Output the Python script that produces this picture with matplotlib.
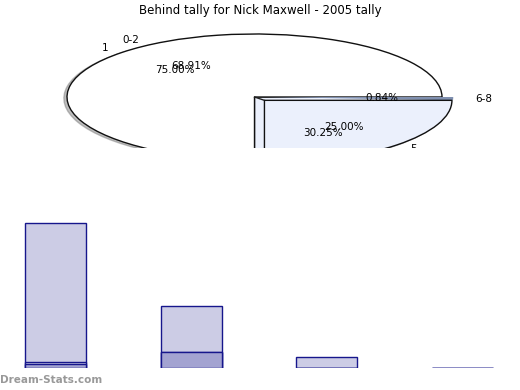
import numpy as np
import matplotlib
matplotlib.use('Agg')
import matplotlib.pyplot as plt

# pie data (two tallies drawn on the same pie)
pie_a_labels = ['1', '5']
pie_a_values = [75.00, 25.00]
pie_b_labels = ['0-2', '3-5', '6-8']
pie_b_values = [68.91, 30.25, 0.84]

# bar data (overlaid series, heights from the bottom)
bar_cats = ['0-2', '3-5', '6-8', '9+']
bar_total = [144, 62, 11, 0]
bar_mid = [6, 16, 0, 0]
bar_low = [4, 16, 0, 0]

title = 'Behind tally for Nick Maxwell - 2005 tally'

W, H = 520, 390
fig = plt.figure(figsize=(W / 100, H / 100), dpi=100)

# ---- pie panel (ellipse, clipped at the bottom) ----
cx, cy, rx, ry = 254.5, 97, 187.5, 63
top, bot = 22, 148
axp = fig.add_axes([0, (H - bot) / H, 1, (bot - top) / H])
explode_a = [0, 0.075]

# back copy of the exploded slice (gives the depth face)
back, _ = axp.pie(pie_a_values, colors=['none', '#EBF0FC'], startangle=0,
                  wedgeprops={'edgecolor': '#222222', 'linewidth': 1.0})
back[0].set_visible(False)

wedges, texts, autotexts = axp.pie(
    pie_a_values, labels=pie_a_labels, colors=['white', '#EBF0FC'],
    explode=explode_a, startangle=0, autopct='%.2f%%',
    shadow={'ox': -0.012, 'oy': -0.015, 'shade': 0.5},
    wedgeprops={'edgecolor': '#111111', 'linewidth': 1.0},
    textprops={'fontsize': 7.5})
wedges[0].set_zorder(1)
wedges[1].set_zorder(3)

# connect back and front corners of the exploded slice
mid = np.deg2rad(360 * (pie_a_values[0] + pie_a_values[1] / 2) / sum(pie_a_values))
axp.plot([0, explode_a[1] * np.cos(mid)], [0, explode_a[1] * np.sin(mid)],
         color='#222222', lw=1.0, zorder=2)

# second tally: only the thin slice shows, the rest is hidden
wb, tb, ab = axp.pie(pie_b_values, labels=pie_b_labels, explode=[0, 0.08, 0.08],
                     startangle=0, autopct='%.2f%%',
                     colors=['none', 'none', '#8090B0'],
                     wedgeprops={'linewidth': 0},
                     textprops={'fontsize': 7.5})
wb[2].set_center((0.06, 0))

# pie() turns clipping off; the reference cuts the pie at the panel bottom
for p in axp.patches:
    p.set_clip_on(True)
for t in tb + ab + texts + autotexts:
    t.set_zorder(5)
    t.set_clip_box(axp.bbox)
    t.set_clip_on(True)

axp.set_aspect('auto')
axp.set_xlim(-cx / rx, (W - cx) / rx)
axp.set_ylim(-(bot - cy) / ry, (cy - top) / ry)
axp.axis('off')

fig.text(0.5, 1 - 10.5 / H, title, ha='center', va='center', fontsize=8.5)

# ---- bar panel ----
step = 135.67
x0 = 55.5
axb = fig.add_axes([(x0 - 0.3 * step) / W, 22 / H, 3.6 * step / W, 150 / H])
x = np.arange(len(bar_cats))
bw = 61 / step
edge = '#16168C'
axb.bar(x, bar_total, width=bw, color='#CCCCE5', edgecolor=edge, linewidth=1.0)
axb.bar(x, bar_mid, width=bw, color='#CCCCE5', edgecolor=edge, linewidth=1.0)
axb.bar(x, bar_low, width=bw, color='#A3A3D1', edgecolor=edge, linewidth=1.0)
axb.set_xlim(-0.3, 3.3)
axb.set_ylim(-0.5, 149.5)
axb.axis('off')

fig.text(0, (H - 380) / H, 'Dream-Stats.com', ha='left', va='center',
         fontsize=7.5, color='#999999', fontweight='bold')

fig.savefig('out.png', dpi=100)
